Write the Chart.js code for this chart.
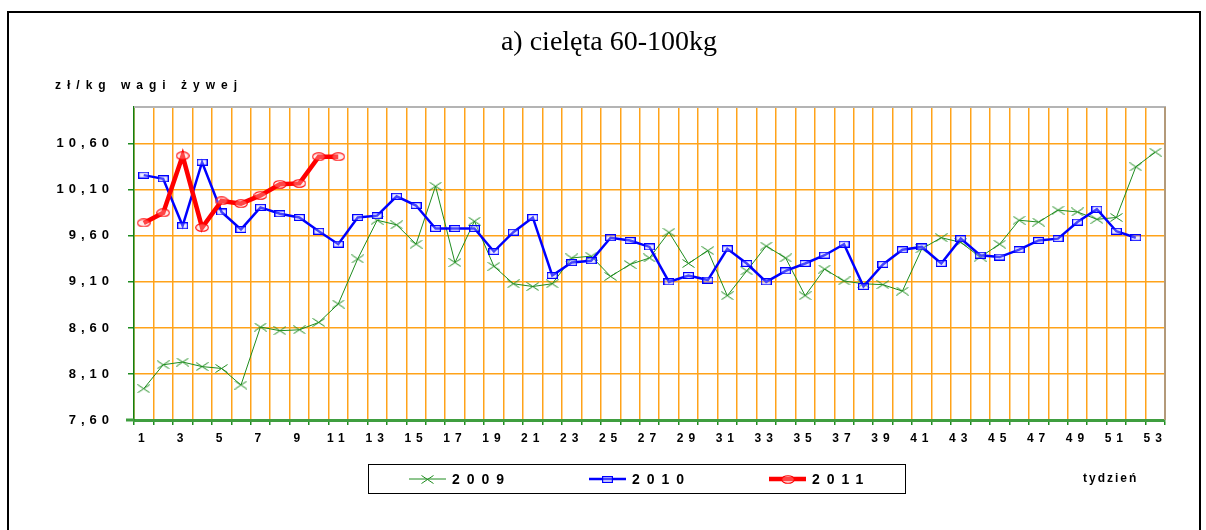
<!DOCTYPE html>
<html>
<head>
<meta charset="utf-8">
<title>cielęta 60-100kg</title>
<script src="https://cdn.jsdelivr.net/npm/chart.js"></script>
<style>
  html, body { margin: 0; padding: 0; background: #fff; }
  #wrap { position: relative; width: 1206px; height: 530px; }
</style>
</head>
<body>
<div id="wrap"><canvas id="priceChart" width="1206" height="530"></canvas></div>
<script>
// tygodnie roku
const weeks = [1, 2, 3, 4, 5, 6, 7, 8, 9, 10, 11, 12, 13, 14, 15, 16, 17, 18, 19, 20,
  21, 22, 23, 24, 25, 26, 27, 28, 29, 30, 31, 32, 33, 34, 35, 36, 37, 38, 39, 40,
  41, 42, 43, 44, 45, 46, 47, 48, 49, 50, 51, 52, 53];

// ceny zł/kg wagi żywej
const prices2009 = [7.94, 8.20, 8.23, 8.18, 8.16, 7.98, 8.61, 8.57, 8.58, 8.66,
  8.86, 9.35, 9.77, 9.72, 9.51, 10.14, 9.31, 9.76, 9.27, 9.08,
  9.05, 9.08, 9.36, 9.38, 9.16, 9.29, 9.36, 9.64, 9.30, 9.44,
  8.95, 9.22, 9.49, 9.36, 8.95, 9.24, 9.11, 9.08, 9.07, 9.00,
  9.46, 9.58, 9.53, 9.37, 9.51, 9.77, 9.75, 9.88, 9.86, 9.78,
  9.80, 10.35, 10.51];
const prices2010 = [10.26, 10.22, 9.71, 10.40, 9.86, 9.67, 9.91, 9.84, 9.80, 9.65,
  9.51, 9.80, 9.82, 10.03, 9.93, 9.68, 9.68, 9.68, 9.43, 9.64,
  9.80, 9.17, 9.31, 9.33, 9.58, 9.55, 9.48, 9.10, 9.17, 9.12,
  9.46, 9.30, 9.10, 9.22, 9.30, 9.39, 9.51, 9.05, 9.29, 9.45,
  9.48, 9.30, 9.57, 9.39, 9.37, 9.45, 9.55, 9.57, 9.75, 9.89,
  9.65, 9.58];
const prices2011 = [9.74, 9.85, 10.47, 9.69, 9.98, 9.95, 10.04, 10.16, 10.17, 10.46, 10.46];

const yTicks = [7.6, 8.1, 8.6, 9.1, 9.6, 10.1, 10.6];
const yMin = 7.6;
const yMax = 11.0;

const FONT = "'Liberation Sans', Arial, sans-serif";
const ORANGE = '#ffa31a';
const GREEN = '#1e8c1e';

// markery rysowane na małych płótnach (spłaszczone jak w Excelu)
function makeMarker(w, h, paint) {
  const c = document.createElement('canvas');
  c.width = w;
  c.height = h;
  paint(c.getContext('2d'), w, h);
  return c;
}
const crossMarker = makeMarker(13, 9, (g, w, h) => {
  g.strokeStyle = GREEN;
  g.lineWidth = 1;
  g.beginPath();
  g.moveTo(0.5, 0.5); g.lineTo(w - 0.5, h - 0.5);
  g.moveTo(0.5, h - 0.5); g.lineTo(w - 0.5, 0.5);
  g.stroke();
});
const squareMarker = makeMarker(11, 7, (g, w, h) => {
  g.strokeStyle = '#0000ff';
  g.lineWidth = 1.2;
  g.fillStyle = 'rgba(200,200,255,0.35)';
  g.fillRect(1, 1, w - 2, h - 2);
  g.strokeRect(0.6, 0.6, w - 1.2, h - 1.2);
});
const ellipseMarker = makeMarker(14, 9, (g, w, h) => {
  g.strokeStyle = '#ff0000';
  g.lineWidth = 1.1;
  g.fillStyle = 'rgba(255,200,200,0.35)';
  g.beginPath();
  g.ellipse(w / 2, h / 2, w / 2 - 0.7, h / 2 - 0.7, 0, 0, Math.PI * 2);
  g.fill();
  g.stroke();
});

// tytuł, opisy osi, ramki i legenda w ramce
const chartDecor = {
  id: 'chartDecor',
  beforeDraw(chart) {
    chart.ctx.letterSpacing = '5px';
  },
  afterDraw(chart) {
    const ctx = chart.ctx;
    const a = chart.chartArea;
    ctx.save();

    // górna i prawa krawędź obszaru wykresu
    ctx.lineWidth = 2;
    ctx.strokeStyle = '#b4b4b4';
    ctx.beginPath();
    ctx.moveTo(a.left, a.top);
    ctx.lineTo(a.right + 1, a.top);
    ctx.stroke();
    ctx.strokeStyle = '#b39a7a';
    ctx.beginPath();
    ctx.moveTo(a.right, a.top);
    ctx.lineTo(a.right, a.bottom);
    ctx.stroke();

    // oś X wysunięta w lewo poza oś Y
    ctx.lineWidth = 3;
    ctx.strokeStyle = '#3f9e3f';
    ctx.beginPath();
    ctx.moveTo(a.left - 8, a.bottom);
    ctx.lineTo(a.left, a.bottom);
    ctx.stroke();

    // tytuł
    ctx.letterSpacing = '0px';
    ctx.fillStyle = '#000';
    ctx.font = "28px 'Liberation Serif', 'Times New Roman', serif";
    ctx.textAlign = 'center';
    ctx.textBaseline = 'middle';
    ctx.fillText('a) cielęta 60-100kg', 609, 43);

    // jednostka osi Y
    ctx.letterSpacing = '6px';
    ctx.font = 'bold 12px ' + FONT;
    ctx.textAlign = 'left';
    ctx.fillText('zł/kg wagi żywej', 55, 86);

    // opis osi X
    ctx.letterSpacing = '2px';
    ctx.font = 'bold 12px ' + FONT;
    ctx.fillText('tydzień', 1083, 479);

    // legenda
    ctx.letterSpacing = '0px';
    ctx.lineWidth = 1;
    ctx.strokeStyle = '#000';
    ctx.strokeRect(368.5, 464.5, 537, 29);
    const items = [
      { x: 409, ds: chart.data.datasets[0] },
      { x: 589, ds: chart.data.datasets[1] },
      { x: 769, ds: chart.data.datasets[2] }
    ];
    const ly = 479;
    items.forEach(it => {
      ctx.strokeStyle = it.ds.borderColor;
      ctx.lineWidth = it.ds.borderWidth;
      ctx.beginPath();
      ctx.moveTo(it.x, ly);
      ctx.lineTo(it.x + 37, ly);
      ctx.stroke();
      const m = it.ds.pointStyle;
      ctx.drawImage(m, Math.round(it.x + 18.5 - m.width / 2), Math.round(ly - m.height / 2));
      ctx.letterSpacing = '7px';
      ctx.fillStyle = '#000';
      ctx.font = 'bold 14px ' + FONT;
      ctx.textAlign = 'left';
      ctx.textBaseline = 'middle';
      ctx.fillText(it.ds.label, it.x + 43, ly + 1);
      ctx.letterSpacing = '0px';
    });

    // zewnętrzna ramka
    ctx.lineWidth = 2;
    ctx.strokeStyle = '#000';
    ctx.strokeRect(8, 12, 1192, 540);

    ctx.restore();
    ctx.letterSpacing = '0px';
  }
};

new Chart(document.getElementById('priceChart').getContext('2d'), {
  type: 'line',
  data: {
    labels: weeks,
    datasets: [
      {
        label: '2009',
        data: prices2009,
        borderColor: GREEN,
        borderWidth: 1,
        pointStyle: crossMarker,
        pointRadius: 4,
        tension: 0,
        order: 2
      },
      {
        label: '2010',
        data: prices2010,
        borderColor: '#0000ff',
        borderWidth: 2.5,
        pointStyle: squareMarker,
        pointRadius: 4,
        tension: 0,
        order: 1
      },
      {
        label: '2011',
        data: prices2011,
        borderColor: '#ff0000',
        borderWidth: 4.5,
        pointStyle: ellipseMarker,
        pointRadius: 4,
        tension: 0,
        order: 0
      }
    ]
  },
  options: {
    responsive: false,
    animation: false,
    devicePixelRatio: 1,
    layout: { padding: { left: 20, top: 107, right: 41, bottom: 80 } },
    plugins: {
      legend: { display: false },
      title: { display: false },
      tooltip: { enabled: false }
    },
    scales: {
      x: {
        type: 'category',
        offset: true,
        afterFit: s => { s.height = 30; },
        grid: {
          offset: true,
          color: ORANGE,
          lineWidth: 1.5,
          tickColor: GREEN,
          tickLength: 5
        },
        border: { color: '#3f9e3f', width: 3 },
        ticks: {
          autoSkip: false,
          maxRotation: 0,
          padding: 6,
          color: '#000',
          font: { family: FONT, size: 12, weight: 'bold' },
          callback: (v, i) => (i % 2 === 0 ? String(weeks[i]) : '')
        }
      },
      y: {
        min: yMin,
        max: yMax,
        afterFit: s => { s.width = 114; },
        afterBuildTicks: s => { s.ticks = yTicks.map(v => ({ value: v })); },
        grid: {
          color: ORANGE,
          lineWidth: 1.5,
          tickColor: GREEN,
          tickLength: 6
        },
        border: { color: '#108010', width: 1.5 },
        ticks: {
          padding: 14,
          color: '#000',
          font: { family: FONT, size: 13, weight: 'bold' },
          callback: v => v.toFixed(2).replace('.', ',')
        }
      }
    }
  },
  plugins: [chartDecor]
});
</script>
</body>
</html>
